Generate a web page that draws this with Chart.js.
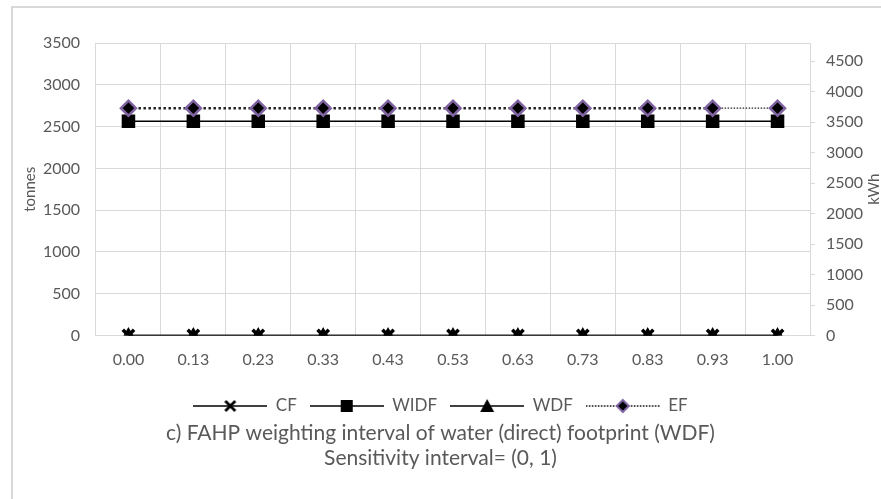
<!DOCTYPE html>
<html>
<head>
<meta charset="utf-8">
<script src="https://cdn.jsdelivr.net/npm/chart.js@4/dist/chart.umd.min.js"></script>
<style>
    body { margin: 0; background: #fff; }
    #wrap { position: relative; width: 881px; height: 499px; }
    #frame {
        position: absolute; left: 11px; top: 6px; right: 0; bottom: 0;
        border-left: 2px solid #d9d9d9; border-top: 2px solid #d9d9d9;
        pointer-events: none;
    }
</style>
</head>
<body>
<div id="wrap">
    <canvas id="chart" width="881" height="499"></canvas>
    <div id="frame"></div>
</div>
<script>
const weightLabels = ['0.00', '0.13', '0.23', '0.33', '0.43', '0.53', '0.63', '0.73', '0.83', '0.93', '1.00'];

// tonnes (left axis)
const cfValues = [0, 0, 0, 0, 0, 0, 0, 0, 0, 0, 0];
const widfValues = [2565, 2565, 2565, 2565, 2565, 2565, 2565, 2565, 2565, 2565, 2565];
const wdfValues = [0, 0, 0, 0, 0, 0, 0, 0, 0, 0, 0];
// kWh (right axis)
const efValues = [3730, 3730, 3730, 3730, 3730, 3730, 3730, 3730, 3730, 3730, 3730];

const leftTicks = [0, 500, 1000, 1500, 2000, 2500, 3000, 3500];
const rightTicks = [0, 500, 1000, 1500, 2000, 2500, 3000, 3500, 4000, 4500];

const textColor = '#595959';
const gridColor = '#d9d9d9';
const fontName = 'Lato, "Open Sans", sans-serif';
const efBorder = '#8064a2';

// small legend swatch: line with the marker in the middle, like Excel
function legendSwatch(marker, dotted) {
    const c = document.createElement('canvas');
    c.width = 74;
    c.height = 16;
    const ctx = c.getContext('2d');
    const m = 37, h = 8;
    ctx.strokeStyle = '#000';
    ctx.lineWidth = dotted ? 1.5 : 1.3;
    if (dotted) ctx.setLineDash([1.5, 1.5]);
    ctx.beginPath();
    ctx.moveTo(0, h);
    ctx.lineTo(74, h);
    ctx.stroke();
    ctx.setLineDash([]);
    if (marker === 'cross') {
        ctx.lineWidth = 2.8;
        ctx.beginPath();
        ctx.moveTo(m - 5, h - 5); ctx.lineTo(m + 5, h + 5);
        ctx.moveTo(m + 5, h - 5); ctx.lineTo(m - 5, h + 5);
        ctx.stroke();
    } else if (marker === 'square') {
        ctx.fillStyle = '#000';
        ctx.fillRect(m - 6, h - 6, 12, 12);
    } else if (marker === 'triangle') {
        ctx.fillStyle = '#000';
        ctx.beginPath();
        ctx.moveTo(m, h - 7); ctx.lineTo(m + 7, h + 6); ctx.lineTo(m - 7, h + 6);
        ctx.closePath();
        ctx.fill();
    } else if (marker === 'diamond') {
        ctx.fillStyle = '#000';
        ctx.strokeStyle = efBorder;
        ctx.lineWidth = 2;
        ctx.beginPath();
        ctx.moveTo(m, h - 6); ctx.lineTo(m + 6, h); ctx.lineTo(m, h + 6); ctx.lineTo(m - 6, h);
        ctx.closePath();
        ctx.fill();
        ctx.stroke();
    }
    return c;
}

const swatches = [
    legendSwatch('cross', false),
    legendSwatch('square', false),
    legendSwatch('triangle', false),
    legendSwatch('diamond', true),
];

// right axis title reads bottom-to-top, as on the left
const rightTitle = {
    id: 'rightTitle',
    afterDraw(chart) {
        const ctx = chart.ctx;
        const area = chart.chartArea;
        ctx.save();
        ctx.translate(874, (area.top + area.bottom) / 2);
        ctx.rotate(-Math.PI / 2);
        ctx.fillStyle = textColor;
        ctx.font = '15px ' + fontName;
        ctx.textAlign = 'center';
        ctx.textBaseline = 'middle';
        ctx.fillText('kWh', 0, 0);
        ctx.restore();
    }
};

const data = {
    labels: weightLabels,
    datasets: [{
        label: 'CF',
        data: cfValues,
        yAxisID: 'y',
        borderColor: '#000',
        borderWidth: 1.5,
        pointStyle: 'crossRot',
        pointRadius: 8,
        pointBorderWidth: 3.5,
        pointBorderColor: '#000',
        order: 2
    },
    {
        label: 'WIDF',
        data: widfValues,
        yAxisID: 'y',
        borderColor: '#000',
        borderWidth: 1.5,
        pointStyle: 'rect',
        pointRadius: 8.5,
        pointBackgroundColor: '#000',
        pointBorderColor: '#000',
        order: 3
    },
    {
        label: 'WDF',
        data: wdfValues,
        yAxisID: 'y',
        borderColor: '#000',
        borderWidth: 1.5,
        pointStyle: 'triangle',
        pointRadius: 7,
        pointBackgroundColor: '#000',
        pointBorderColor: '#000',
        order: 1
    },
    {
        label: 'EF',
        data: efValues,
        yAxisID: 'y1',
        borderColor: '#222',
        borderWidth: 2.5,
        borderDash: [2.5, 2.5],
        segment: {
            borderWidth: ctx => ctx.p0DataIndex === weightLabels.length - 2 ? 1.2 : undefined,
            borderDash: ctx => ctx.p0DataIndex === weightLabels.length - 2 ? [1.5, 1.5] : undefined
        },
        pointStyle: 'rectRot',
        pointRadius: 7.5,
        pointBackgroundColor: '#000',
        pointBorderColor: efBorder,
        pointBorderWidth: 2.5,
        order: 0
    }]
};

const config = {
    type: 'line',
    data: data,
    plugins: [rightTitle],
    options: {
        responsive: false,
        devicePixelRatio: 1,
        animation: false,
        layout: { padding: { top: 43, left: 0, right: 0, bottom: 28.5 } },
        scales: {
            x: {
                offset: true,
                grid: { offset: true, color: gridColor, drawTicks: false },
                border: { display: false },
                ticks: { color: textColor, font: { family: fontName, size: 16 }, padding: 15, maxRotation: 0 },
                afterFit: scale => { scale.height = 49; }
            },
            y: {
                position: 'left',
                min: 0,
                max: 3500,
                afterBuildTicks: scale => { scale.ticks = leftTicks.map(v => ({ value: v })); },
                grid: { color: gridColor, drawTicks: false },
                border: { display: false },
                ticks: { color: textColor, font: { family: fontName, size: 16 }, padding: 16, callback: v => String(v) },
                title: { display: true, text: 'tonnes', color: textColor, font: { family: fontName, size: 15 }, padding: { top: 21, bottom: 0 } },
                afterFit: scale => { scale.width = 96; }
            },
            y1: {
                position: 'right',
                min: 0,
                max: 4800,
                afterBuildTicks: scale => { scale.ticks = rightTicks.map(v => ({ value: v })); },
                grid: { drawOnChartArea: false, color: gridColor, tickLength: 5 },
                border: { display: true, color: gridColor },
                ticks: { color: textColor, font: { family: fontName, size: 16 }, padding: 11, callback: v => String(v) },
                afterFit: scale => { scale.width = 71; }
            }
        },
        plugins: {
            legend: {
                position: 'bottom',
                labels: {
                    color: textColor,
                    font: { family: fontName, size: 17 },
                    usePointStyle: true,
                    pointStyleWidth: 74,
                    padding: 13,
                    generateLabels: chart => chart.data.datasets.map((ds, i) => ({
                        text: ds.label,
                        pointStyle: swatches[i],
                        fontColor: textColor,
                        strokeStyle: 'transparent',
                        fillStyle: 'transparent',
                        lineWidth: 0,
                        datasetIndex: i
                    }))
                }
            },
            title: {
                display: true,
                position: 'bottom',
                text: ['c) FAHP weighting interval of water (direct) footprint (WDF)', 'Sensitivity interval= (0, 1)'],
                color: textColor,
                font: { family: fontName, size: 21, weight: 'normal', lineHeight: '25px' },
                padding: { top: -4, bottom: 0 }
            },
            tooltip: { enabled: false }
        }
    }
};

const chart = new Chart(document.getElementById('chart'), config);
</script>
</body>
</html>
